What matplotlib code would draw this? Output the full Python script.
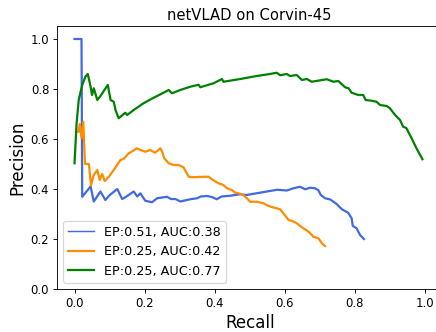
import matplotlib
matplotlib.use("Agg")
from matplotlib import pyplot as plt

# precision/recall values
recall_a = [0.0, 0.02, 0.022, 0.046, 0.055, 0.074, 0.088, 0.10, 0.122, 0.136, 0.145, 0.169,
            0.179, 0.188, 0.202, 0.221, 0.236, 0.264, 0.275, 0.288, 0.302, 0.33, 0.35, 0.36,
            0.378, 0.392, 0.406, 0.42, 0.444, 0.473, 0.491, 0.52, 0.549, 0.578, 0.606, 0.625,
            0.644, 0.658, 0.672, 0.686, 0.696, 0.703, 0.715, 0.73, 0.748, 0.763, 0.781, 0.791,
            0.794, 0.805, 0.815, 0.826]
precision_a = [1.0, 1.0, 0.369, 0.41, 0.35, 0.39, 0.356, 0.375, 0.40, 0.36, 0.367, 0.39,
               0.37, 0.383, 0.353, 0.347, 0.363, 0.369, 0.36, 0.36, 0.35, 0.359, 0.363, 0.37,
               0.372, 0.368, 0.359, 0.37, 0.373, 0.379, 0.376, 0.383, 0.39, 0.397, 0.394, 0.403,
               0.409, 0.399, 0.405, 0.403, 0.395, 0.376, 0.363, 0.358, 0.34, 0.319, 0.305, 0.283,
               0.253, 0.243, 0.216, 0.20]

recall_b = [0.011, 0.015, 0.02, 0.025, 0.03, 0.041, 0.047, 0.055, 0.065, 0.072, 0.079, 0.086,
            0.098, 0.112, 0.131, 0.14, 0.155, 0.164, 0.178, 0.188, 0.202, 0.216, 0.23, 0.245,
            0.25, 0.256, 0.269, 0.283, 0.297, 0.311, 0.326, 0.34, 0.368, 0.383, 0.392, 0.402,
            0.411, 0.425, 0.435, 0.449, 0.459, 0.468, 0.482, 0.492, 0.501, 0.52, 0.539, 0.554,
            0.568, 0.587, 0.596, 0.611, 0.625, 0.634, 0.653, 0.668, 0.682, 0.696, 0.706, 0.715]
precision_b = [0.629, 0.66, 0.604, 0.669, 0.50, 0.50, 0.415, 0.456, 0.476, 0.436, 0.46, 0.432,
               0.449, 0.476, 0.516, 0.52, 0.543, 0.55, 0.563, 0.556, 0.549, 0.556, 0.545, 0.563,
               0.55, 0.523, 0.503, 0.496, 0.496, 0.487, 0.449, 0.447, 0.449, 0.449, 0.439, 0.43,
               0.423, 0.416, 0.403, 0.396, 0.385, 0.383, 0.376, 0.363, 0.349, 0.349, 0.343, 0.332,
               0.326, 0.319, 0.303, 0.276, 0.27, 0.263, 0.243, 0.229, 0.209, 0.203, 0.183, 0.172]

recall_c = [0.0, 0.006, 0.012, 0.022, 0.031, 0.038, 0.046, 0.05, 0.055, 0.065, 0.074, 0.095,
            0.103, 0.112, 0.117, 0.126, 0.145, 0.15, 0.169, 0.197, 0.226, 0.254, 0.269, 0.278,
            0.302, 0.33, 0.354, 0.359, 0.397, 0.421, 0.425, 0.473, 0.52, 0.558, 0.577, 0.587,
            0.606, 0.615, 0.634, 0.649, 0.663, 0.677, 0.72, 0.739, 0.753, 0.772, 0.782, 0.791,
            0.81, 0.824, 0.831, 0.848, 0.862, 0.872, 0.891, 0.90, 0.915, 0.929, 0.938, 0.947,
            0.962, 0.976, 0.993]
precision_c = [0.503, 0.663, 0.756, 0.816, 0.849, 0.86, 0.809, 0.776, 0.803, 0.756, 0.772, 0.816,
               0.756, 0.749, 0.716, 0.683, 0.705, 0.696, 0.716, 0.743, 0.765, 0.785, 0.796, 0.783,
               0.796, 0.809, 0.817, 0.807, 0.823, 0.84, 0.829, 0.84, 0.852, 0.86, 0.865, 0.855,
               0.86, 0.852, 0.856, 0.836, 0.84, 0.829, 0.839, 0.829, 0.832, 0.807, 0.803, 0.785,
               0.776, 0.776, 0.756, 0.753, 0.749, 0.736, 0.732, 0.723, 0.696, 0.676, 0.649, 0.644,
               0.603, 0.563, 0.519]

labels = ["EP:0.51, AUC:0.38", "EP:0.25, AUC:0.42", "EP:0.25, AUC:0.77"]

fig = plt.figure(figsize=(436 / 80, 332 / 80), dpi=80)
ax = fig.add_axes([0.1307, 0.1295, 0.884, 0.7907])

ax.plot(recall_a, precision_a, color="royalblue", lw=2, label=labels[0])
ax.plot(recall_b, precision_b, color="darkorange", lw=2, label=labels[1])
ax.plot(recall_c, precision_c, color="green", lw=2, label=labels[2])

ax.set_xlim(-0.05, 1.05)
ax.set_ylim(0, 1.05)
ax.set_xticks([0.0, 0.2, 0.4, 0.6, 0.8, 1.0])
ax.set_yticks([0.0, 0.2, 0.4, 0.6, 0.8, 1.0])
ax.tick_params(labelsize=10.5)
ax.set_xlabel("Recall", fontsize=15)
ax.set_ylabel("Precision", fontsize=15)
ax.set_title("netVLAD on Corvin-45", fontsize=13.3)

leg = ax.legend(loc="lower left", fontsize=11.5)
leg.get_lines()[0].set_linewidth(1.3)

fig.savefig("out.png", dpi=80)
